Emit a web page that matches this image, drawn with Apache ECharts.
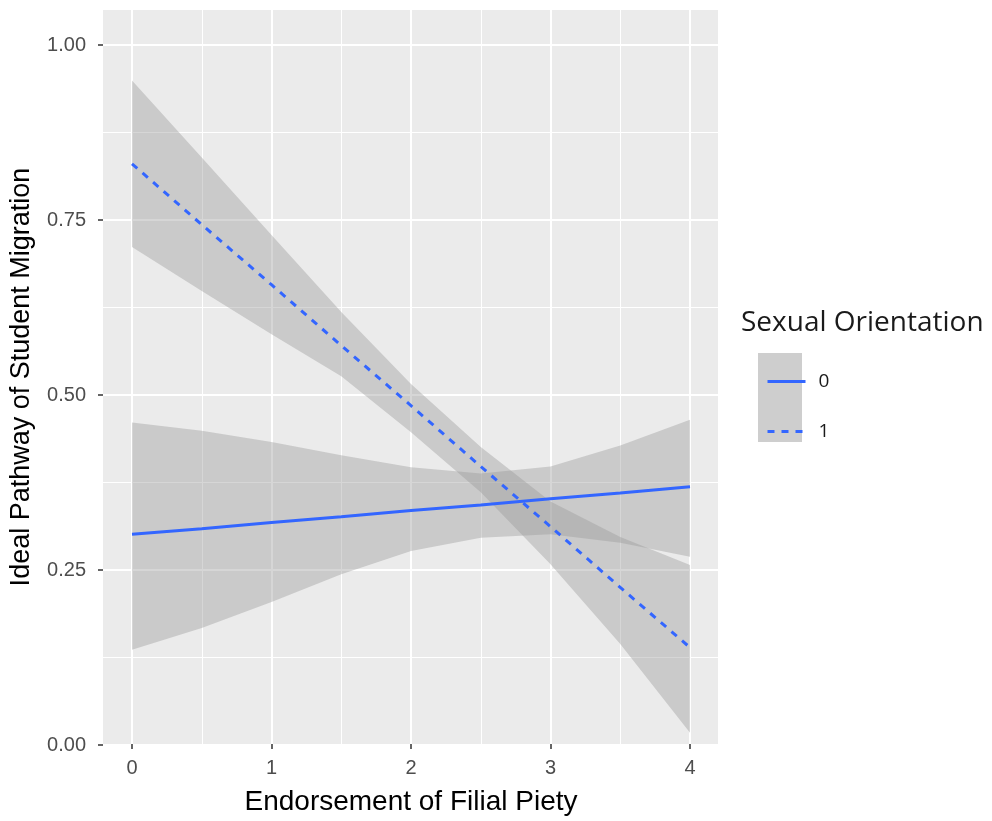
<!DOCTYPE html>
<html>
<head>
<meta charset="utf-8">
<script src="https://cdn.jsdelivr.net/npm/echarts@6/dist/echarts.min.js"></script>
<style>
  html, body { margin: 0; padding: 0; background: #ffffff; }
  #chart { width: 992px; height: 821px; }
</style>
</head>
<body>
<div id="chart"></div>
<script>
// ---- data ----
const xValues = [0, 0.5, 1, 1.5, 2, 2.5, 3, 3.5, 4];

// Sexual Orientation = 0 (solid)
const fit0   = [0.300, 0.308, 0.317, 0.325, 0.334, 0.342, 0.351, 0.359, 0.368];
const lower0 = [0.135, 0.166, 0.203, 0.243, 0.276, 0.295, 0.300, 0.288, 0.268];
const upper0 = [0.460, 0.448, 0.432, 0.413, 0.396, 0.387, 0.397, 0.427, 0.464];

// Sexual Orientation = 1 (dashed)
const fit1   = [0.830, 0.743, 0.657, 0.570, 0.484, 0.397, 0.311, 0.224, 0.138];
const lower1 = [0.711, 0.648, 0.586, 0.526, 0.446, 0.360, 0.257, 0.143, 0.016];
const upper1 = [0.949, 0.839, 0.728, 0.618, 0.515, 0.425, 0.347, 0.296, 0.256];

const seriesNames = ['0', '1'];
const xTitle = 'Endorsement of Filial Piety';
const yTitle = 'Ideal Pathway of Student Migration';
const legendTitle = 'Sexual Orientation';

// ---- build ----
const pairs = (ys) => xValues.map((x, i) => [x, ys[i]]);

const LINE_COLOR = '#3366FF';
const AX_FONT = '"Liberation Sans", Arial, sans-serif';
const LEG_FONT = '"Open Sans", "Liberation Sans", sans-serif';

// confidence ribbon drawn as one polygon through the axis scales
function ribbonSeries(name, lo, hi) {
  const rows = xValues.map((x, i) => [x, lo[i], hi[i]]);
  return {
    type: 'custom', name: name, xAxisIndex: 1, yAxisIndex: 1, silent: true,
    data: rows,
    encode: { x: 0, y: [1, 2] },
    renderItem: function (params, api) {
      if (params.dataIndex !== 0) return null;
      const top = rows.map(r => api.coord([r[0], r[2]]));
      const bot = rows.slice().reverse().map(r => api.coord([r[0], r[1]]));
      return {
        type: 'polygon',
        shape: { points: top.concat(bot), smooth: 0 },
        style: { fill: '#999999', opacity: 0.4 }
      };
    }
  };
}

const chart = echarts.init(document.getElementById('chart'), null, { renderer: 'canvas' });

const option = {
  backgroundColor: '#ffffff',
  animation: false,
  title: {
    text: legendTitle, left: 736, top: 304,
    textStyle: { fontFamily: LEG_FONT, fontSize: 28, fontWeight: 'normal', color: '#1a1a1a' }
  },
  graphic: [
    { type: 'rect', z: -10, shape: { x: 103, y: 10, width: 615, height: 735 }, style: { fill: '#EBEBEB' } },
    { type: 'rect', z: 1, shape: { x: 758, y: 353, width: 44, height: 89 }, style: { fill: '#CECECE' } }
  ],
  legend: {
    data: seriesNames, orient: 'vertical', left: 761, top: 367,
    itemWidth: 38, itemHeight: 14, itemGap: 31,
    itemStyle: { opacity: 0 },
    lineStyle: { width: 3 },
    textStyle: { fontFamily: LEG_FONT, fontSize: 19, color: '#1a1a1a', padding: [0, 0, 0, 8] },
    selectedMode: false
  },
  grid: [
    { left: 103, top: 45, width: 615, height: 700, containLabel: false },
    { left: 130, top: 10, width: 560, height: 735, containLabel: false }
  ],
  xAxis: [
    { gridIndex: 0, type: 'value', min: -0.2, max: 4.2, show: false },
    {
      gridIndex: 1, type: 'value', min: 0, max: 4, interval: 1, splitNumber: 2,
      axisLine: { show: false, onZero: false },
      axisTick: { show: true, length: 5, lineStyle: { color: '#333333', width: 1.5 } },
      axisLabel: { fontFamily: AX_FONT, fontSize: 20, color: '#4D4D4D', margin: 14 },
      splitLine: { show: true, lineStyle: { color: '#ffffff', width: 2 } },
      minorTick: { show: false, splitNumber: 2 },
      minorSplitLine: { show: true, lineStyle: { color: '#ffffff', width: 1 } },
      name: xTitle, nameLocation: 'middle', nameGap: 44,
      nameTextStyle: { fontFamily: AX_FONT, fontSize: 28, color: '#000000' }
    }
  ],
  yAxis: [
    {
      gridIndex: 0, type: 'value', min: 0, max: 1, interval: 0.25,
      axisLine: { show: false, onZero: false },
      axisTick: { show: true, length: 5, lineStyle: { color: '#333333', width: 1.5 } },
      axisLabel: { fontFamily: AX_FONT, fontSize: 20, color: '#4D4D4D', margin: 17,
                   formatter: (v) => v.toFixed(2) },
      splitLine: { show: true, lineStyle: { color: '#ffffff', width: 2 } },
      minorTick: { show: false, splitNumber: 2 },
      minorSplitLine: { show: true, lineStyle: { color: '#ffffff', width: 1 } }
    },
    {
      gridIndex: 1, type: 'value', min: 0, max: 1.05,
      axisLine: { show: false, onZero: false }, axisTick: { show: false }, axisLabel: { show: false },
      splitLine: { show: false },
      name: yTitle, nameLocation: 'middle', nameGap: 97,
      nameTextStyle: { fontFamily: AX_FONT, fontSize: 27, color: '#000000' }
    }
  ],
  series: [
    ribbonSeries('band0', lower0, upper0),
    ribbonSeries('band1', lower1, upper1),
    {
      type: 'line', name: seriesNames[0], xAxisIndex: 1, yAxisIndex: 1,
      data: pairs(fit0), symbol: 'none', showSymbol: false,
      itemStyle: { color: LINE_COLOR },
      lineStyle: { color: LINE_COLOR, width: 3 }
    },
    {
      type: 'line', name: seriesNames[1], xAxisIndex: 1, yAxisIndex: 1,
      data: pairs(fit1), symbol: 'none', showSymbol: false,
      itemStyle: { color: LINE_COLOR },
      lineStyle: { color: LINE_COLOR, width: 3, type: [7, 7] }
    }
  ]
};

chart.setOption(option);
</script>
</body>
</html>
